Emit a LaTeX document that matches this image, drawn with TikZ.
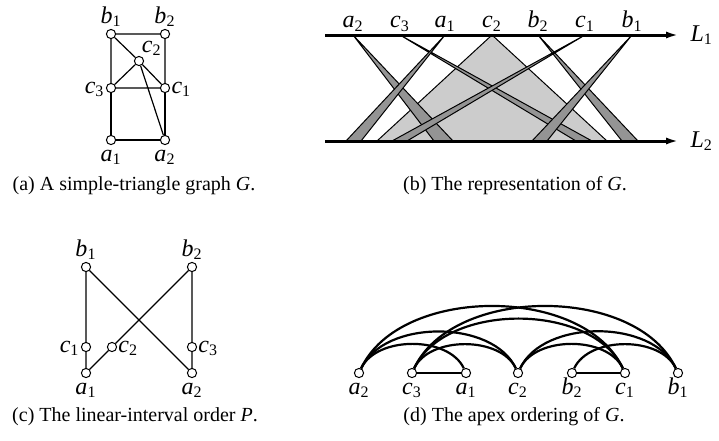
\documentclass[tikz,border=0pt]{standalone}
\usepackage{fontspec}
\setmainfont{Liberation Serif}
\usetikzlibrary{arrows.meta}
\newcommand{\vl}[2]{\textit{#1}\textsubscript{#2}}

\begin{document}
\begin{tikzpicture}[
  x=0.5pt, y=-0.5pt,
  every label/.style={font=\large, text height=1.6ex, text depth=0.45ex, inner sep=0.5pt},
  v/.style={circle, draw, fill=white, minimum size=4.6pt, inner sep=0pt, line width=0.5pt},
  gedge/.style={line width=0.6pt},
  axis/.style={line width=1.5pt, -{Latex[length=6.5pt,width=3.5pt]}},
  strip/.style={fill=black!42, draw=black, line width=0.5pt},
  wide/.style={fill=black!20, draw=black, line width=0.5pt},
  arc/.style={line width=1.1pt},
  capt/.style={inner sep=0pt, anchor=base}
]
  \useasboundingbox (0,0) rectangle (719,440);

  % (a) Graph G
  \node[v, label=above:\vl{b}{1}] (b1) at (111,34) {};
  \node[v, label=above:\vl{b}{2}] (b2) at (165,34) {};
  \node[v, label={[inner sep=0pt]60:\vl{c}{2}}] (c2) at (139,61) {};
  \node[v, label=left:\vl{c}{3}] (c3) at (111,88) {};
  \node[v, label=right:\vl{c}{1}] (c1) at (165,88) {};
  \node[v, label=below:\vl{a}{1}] (a1) at (111,140) {};
  \node[v, label=below:\vl{a}{2}] (a2) at (165,140) {};

  \draw[gedge] (b1)--(b2) (b1)--(c3) (b2)--(c1) (b1)--(c2);
  \draw[gedge] (c2)--(c3) (c2)--(c1) (c3)--(c1) (c2)--(a2);
  \draw[gedge] (c3)--(a1) (c1)--(a2) (a1)--(a2);
  \node[capt] (capa) at (134,190) {(a) A simple-triangle graph \textit{G}.};

  % (b) Representation
  \foreach \t/\l/\r in {492/377/607}
    \filldraw[wide] (\t,35) -- (\l,141) -- (\r,141) -- cycle;
  \foreach \t/\l/\r in {353/434/453, 400/576/592, 445/346/361, 538/622/638, 585/392/407, 632/532/547}
    \filldraw[strip] (\t,35) -- (\l,141) -- (\r,141) -- cycle;

  \coordinate (l1s) at (325,35);
  \coordinate (l1e) at (679,35);
  \coordinate (l2s) at (325,141);
  \coordinate (l2e) at (679,141);
  \draw[axis] (l1s) -- (l1e) node[right, inner sep=5pt, font=\large] (L1) {\vl{L}{1}};
  \draw[axis] (l2s) -- (l2e) node[right, inner sep=5pt, font=\large] (L2) {\vl{L}{2}};

  \foreach \x/\n/\i in {353/a/2, 400/c/3, 445/a/1, 492/c/2, 538/b/2, 585/c/1, 632/b/1}
    \node[above, inner sep=1.5pt, font=\large, text height=1.6ex, text depth=0.45ex] (t\n\i) at (\x,35) {\vl{\n}{\i}};
  \node[capt] (capb) at (515,190) {(b) The representation of \textit{G}.};

  % (c) Linear-interval order P
  \node[v, label=above:\vl{b}{1}] (pb1) at (86,267) {};
  \node[v, label=above:\vl{b}{2}] (pb2) at (192,267) {};
  \node[v, label=left:\vl{c}{1}] (pc1) at (86,347) {};
  \node[v, label=right:\vl{c}{2}] (pc2) at (112,347) {};
  \node[v, label=right:\vl{c}{3}] (pc3) at (192,347) {};
  \node[v, label=below:\vl{a}{1}] (pa1) at (86,373) {};
  \node[v, label=below:\vl{a}{2}] (pa2) at (192,373) {};

  \draw[gedge] (pb1)--(pc1) (pc1)--(pa1) (pb1)--(pa2);
  \draw[gedge] (pb2)--(pc3) (pc3)--(pa2) (pb2)--(pc2) (pc2)--(pa1);
  \node[capt] (capc) at (135,421) {(c) The linear-interval order \textit{P}.};

  % (d) Apex ordering
  \foreach \x/\n/\i in {359/a/2, 412/c/3, 466/a/1, 518/c/2, 572/b/2, 625/c/1, 678/b/1}
    \node[v, label=below:\vl{\n}{\i}] (d\n\i) at (\x,373) {};

  \draw[arc] (dc3)--(da1) (db2)--(dc1);
  \draw[arc, looseness=0.9] (da2) to[out=65,in=115] (da1);
  \draw[arc, looseness=0.9] (da2) to[out=65,in=115] (dc2);
  \draw[arc, looseness=0.9] (da2) to[out=65,in=115] (dc1);
  \draw[arc, looseness=0.9] (dc3) to[out=65,in=115] (dc2);
  \draw[arc, looseness=0.9] (dc3) to[out=65,in=115] (dc1);
  \draw[arc, looseness=0.9] (dc3) to[out=65,in=115] (db1);
  \draw[arc, looseness=0.9] (dc2) to[out=65,in=115] (dc1);
  \draw[arc, looseness=0.9] (dc2) to[out=65,in=115] (db1);
  \draw[arc, looseness=0.9] (db2) to[out=65,in=115] (db1);
  \node[capt] (capd) at (514,421) {(d) The apex ordering of \textit{G}.};
\end{tikzpicture}
\end{document}
